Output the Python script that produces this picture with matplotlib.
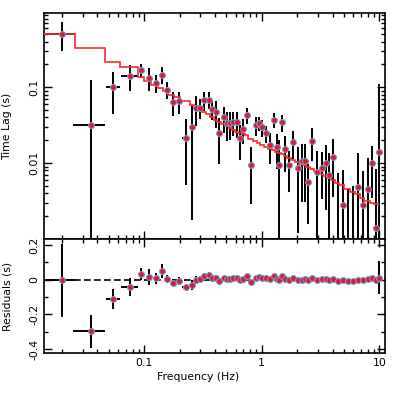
import numpy as np
import matplotlib
matplotlib.use("Agg")
import matplotlib.pyplot as plt
from matplotlib.ticker import FixedLocator, FuncFormatter, LogLocator, NullFormatter, MultipleLocator

plt.rcParams["font.family"] = ["DejaVu Sans"]
plt.rcParams["axes.unicode_minus"] = False

# frequency bins (Hz) and half widths
freq = [0.0201, 0.0356, 0.0548, 0.0755, 0.0948, 0.111, 0.126, 0.141, 0.156, 0.175,
        0.197, 0.226, 0.256, 0.277, 0.301, 0.326, 0.355, 0.381, 0.407, 0.437,
        0.474, 0.508, 0.539, 0.575, 0.614, 0.655, 0.698, 0.744, 0.813, 0.888,
        0.945, 1.008, 1.096, 1.186, 1.262, 1.339, 1.415, 1.50, 1.58, 1.72,
        1.86, 2.02, 2.18, 2.32, 2.48, 2.70, 2.93, 3.23, 3.49, 3.76,
        4.07, 4.42, 4.87, 5.43, 6.02, 6.60, 7.24, 8.08, 8.68, 9.39, 10.0]
freq_err = [0.0055, 0.0106, 0.0072, 0.0124, 0.0045, 0.0035, 0.004, 0.0045, 0.005, 0.0055,
            0.006, 0.018, 0.008, 0.008, 0.009, 0.010, 0.011, 0.011, 0.012, 0.013,
            0.014, 0.015, 0.016, 0.017, 0.018, 0.020, 0.021, 0.022, 0.024, 0.027,
            0.028, 0.030, 0.033, 0.036, 0.038, 0.040, 0.042, 0.045, 0.047, 0.052,
            0.056, 0.061, 0.065, 0.070, 0.074, 0.081, 0.088, 0.097, 0.105, 0.113,
            0.122, 0.133, 0.146, 0.163, 0.181, 0.198, 0.217, 0.242, 0.260, 0.282, 0.10]

# measured time lags (s)
lag = [0.507, 0.0322, 0.102, 0.142, 0.169, 0.134, 0.115, 0.147, 0.093, 0.0635,
       0.066, 0.0217, 0.0298, 0.054, 0.054, 0.068, 0.0687, 0.0523, 0.0473, 0.0248,
       0.0403, 0.0336, 0.0339, 0.0353, 0.0346, 0.0215, 0.028, 0.0428, 0.0095, 0.0319,
       0.0336, 0.0298, 0.0248, 0.0174, 0.0375, 0.0163, 0.0095, 0.0346, 0.0154, 0.0094,
       0.0189, 0.0087, 0.0106, 0.0106, 0.0056, 0.0198, 0.0076, 0.0087, 0.0099, 0.0070,
       0.0121, -0.004, 0.0028, -0.003, -0.002, 0.0048, 0.0028, 0.0045, 0.0101, 0.0014, 0.0141]
lag_err = [0.21, 0.094, 0.058, 0.053, 0.035, 0.046, 0.032, 0.038, 0.023, 0.022,
           0.0215, 0.0166, 0.028, 0.0235, 0.016, 0.0195, 0.017, 0.015, 0.018, 0.0150,
           0.015, 0.014, 0.014, 0.0124, 0.013, 0.0104, 0.0103, 0.010, 0.0066, 0.0088,
           0.0071, 0.0077, 0.0065, 0.0078, 0.0084, 0.0079, 0.0105, 0.0086, 0.0077, 0.0052,
           0.0077, 0.0075, 0.0075, 0.0075, 0.004, 0.009, 0.0068, 0.0053, 0.0075, 0.0065,
           0.0085, 0.0115, 0.0052, 0.0075, 0.007, 0.0088, 0.005, 0.0071, 0.0066, 0.007, 0.095]

# binned model
model = [0.51, 0.331, 0.214, 0.186, 0.138, 0.121, 0.107, 0.097, 0.089, 0.080,
         0.074, 0.066, 0.059, 0.056, 0.050, 0.047, 0.044, 0.040, 0.0375, 0.035,
         0.0325, 0.031, 0.029, 0.0275, 0.026, 0.0248, 0.0242, 0.0236, 0.021, 0.0195,
         0.0182, 0.0174, 0.0165, 0.0155, 0.0148, 0.0142, 0.0136, 0.013, 0.0125, 0.0118,
         0.011, 0.0104, 0.0098, 0.0094, 0.0089, 0.0083, 0.0078, 0.0072, 0.0068, 0.0064,
         0.006, 0.0055, 0.0051, 0.0046, 0.0042, 0.0039, 0.0035, 0.0032, 0.0030, 0.0029, 0.0028]

freq_range = (0.0141, 11.2)
lag_range = (0.001, 0.95)
resid_range = (-0.423, 0.235)

f = np.array(freq)
fe = np.array(freq_err)
y = np.array(lag)
ye = np.array(lag_err)
m = np.array(model)
resid = y - m
edges = np.concatenate([[freq_range[0]], f[:-1] + fe[:-1], [f[-1]]])

fig = plt.figure(figsize=(3.97, 3.97), dpi=100)
gs = fig.add_gridspec(2, 1, height_ratios=[226, 114], hspace=0,
                      left=0.111, right=0.970, top=0.967, bottom=0.111)
ax1 = fig.add_subplot(gs[0])
ax2 = fig.add_subplot(gs[1], sharex=ax1)

mk = dict(marker="o", ls="none", ms=4.2, mfc="#e8141e", mec="#6b9bd2", mew=0.8, zorder=4)
eb = dict(fmt="none", ecolor="black", elinewidth=1.4, capsize=0, zorder=2)

# top panel: lags with model
ax1.set_xscale("log")
ax1.set_yscale("log", nonpositive="clip")
ax1.errorbar(f, y, yerr=ye, xerr=fe, **eb)
ax1.stairs(m, edges, baseline=None, color="#ff2a2a", lw=1.2, zorder=3)
ax1.plot(f, y, **mk)
ax1.set_xlim(*freq_range)
ax1.set_ylim(*lag_range)
ax1.set_ylabel("Time Lag (s)", fontsize=7.8)
ax1.yaxis.set_major_locator(FixedLocator([0.01, 0.1]))
ax1.yaxis.set_major_formatter(FuncFormatter(lambda v, p: "%g" % v))
ax1.yaxis.set_minor_locator(LogLocator(base=10, subs=np.arange(2, 10), numticks=20))
ax1.yaxis.set_minor_formatter(NullFormatter())
plt.setp(ax1.get_xticklabels(), visible=False)

# bottom panel: residuals
ax2.axhline(0, color="black", lw=1.2, ls=(0, (4, 2)), zorder=1)
ax2.errorbar(f, resid, yerr=ye, xerr=fe, **eb)
ax2.plot(f, resid, **mk)
ax2.set_ylim(*resid_range)
ax2.set_ylabel("Residuals (s)", fontsize=7.8)
ax2.set_xlabel("Frequency (Hz)", fontsize=7.8)
ax2.xaxis.set_label_coords(0.453, -0.167)
ax2.yaxis.set_major_locator(FixedLocator([-0.4, -0.2, 0, 0.2]))
ax2.yaxis.set_major_formatter(FuncFormatter(lambda v, p: "%g" % v))
ax2.yaxis.set_minor_locator(MultipleLocator(0.1))
ax2.xaxis.set_major_locator(FixedLocator([0.1, 1, 10]))
ax2.xaxis.set_major_formatter(FuncFormatter(lambda v, p: "%g" % v))
ax2.xaxis.set_minor_locator(LogLocator(base=10, subs=np.arange(2, 10), numticks=20))
ax2.xaxis.set_minor_formatter(NullFormatter())

for ax in (ax1, ax2):
    for s in ax.spines.values():
        s.set_linewidth(1.2)
    ax.tick_params(which="both", direction="in", top=True, right=True, width=1.0, labelsize=7.8)
    ax.tick_params(which="major", length=6)
    ax.tick_params(which="minor", length=3)
    ax.tick_params(axis="y", labelrotation=90)
    for lab in ax.get_yticklabels():
        lab.set_va("center")
    ax.yaxis.set_label_coords(-0.094, 0.5)

fig.savefig("out.png", dpi=100)
